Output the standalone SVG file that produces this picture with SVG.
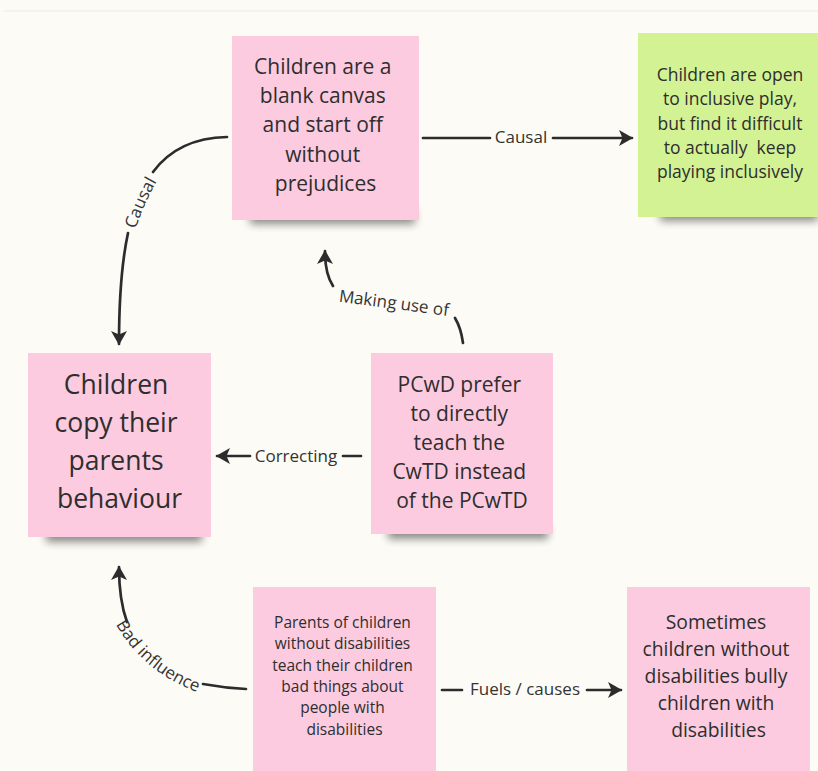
<svg xmlns="http://www.w3.org/2000/svg" width="818" height="771" viewBox="0 0 818 771">
  <style>
    .note-pink { fill: #fccbdf; }
    .note-green { fill: #d3f294; }
    .shadow { fill: #000; opacity: 0.45; filter: url(#soft); }
    .txt { font-family: "Open Sans", "Noto Sans", sans-serif; fill: #2e2e2e; text-anchor: middle; }
    .lbl { font-family: "Open Sans", "Noto Sans", sans-serif; fill: #333; font-size: 17px; text-anchor: middle; }
    .edge { fill: none; stroke: #2c2c2c; stroke-width: 2.7; stroke-linecap: round; }
  </style>
  <defs>
    <filter id="soft" x="-20%" y="-100%" width="140%" height="300%">
      <feGaussianBlur stdDeviation="4"/>
    </filter>
    <marker id="arrow" viewBox="0 0 16 18" refX="14" refY="9" markerWidth="16" markerHeight="18" markerUnits="userSpaceOnUse" orient="auto">
      <path d="M1,1 L15,9 L1,17 L4.5,9 z" fill="#2c2c2c"/>
    </marker>
    <path id="p-causal-side" d="M 130 250 Q 140 205 168 163"/>
    <path id="p-bad" d="M 112 617 Q 140 673 205 695"/>
    <path id="p-making" d="M 333 301 Q 390 308 454 317"/>
  </defs>

  <!-- canvas -->
  <rect x="0" y="0" width="818" height="771" fill="#fdfbf5"/>
  <line x1="4" y1="11" x2="818" y2="11" stroke="#ebeae6" stroke-width="1"/>

  <!-- connectors -->
  <g id="connectors">
    <!-- Causal: blank canvas -> open to inclusive play -->
    <line class="edge" x1="423" y1="138" x2="490" y2="138"/>
    <line class="edge" x1="553" y1="138" x2="632" y2="138" marker-end="url(#arrow)"/>
    <text class="lbl" x="521" y="143">Causal</text>

    <!-- Causal: blank canvas -> copy parents -->
    <path class="edge" d="M 227 137 Q 178 138 153 172"/>
    <path class="edge" d="M 128 233 Q 119 275 119 344" marker-end="url(#arrow)"/>
    <text class="lbl"><textPath href="#p-causal-side" startOffset="50%">Causal</textPath></text>

    <!-- Making use of: PCwD -> blank canvas -->
    <path class="edge" d="M 333 286 Q 325 274 325 251" marker-end="url(#arrow)"/>
    <path class="edge" d="M 455 318 Q 461 328 463 343"/>
    <text class="lbl"><textPath href="#p-making" startOffset="50%">Making use of</textPath></text>

    <!-- Correcting: PCwD -> copy parents -->
    <line class="edge" x1="361" y1="456" x2="343" y2="456"/>
    <line class="edge" x1="250" y1="456" x2="217" y2="456" marker-end="url(#arrow)"/>
    <text class="lbl" x="296" y="462">Correcting</text>

    <!-- Bad influence: parents teach -> copy parents -->
    <path class="edge" d="M 127 622 Q 119 600 119 567" marker-end="url(#arrow)"/>
    <path class="edge" d="M 203 684 Q 225 688 246 689"/>
    <text class="lbl"><textPath href="#p-bad" startOffset="50%">Bad influence</textPath></text>

    <!-- Fuels / causes: parents teach -> bullying -->
    <line class="edge" x1="442" y1="690" x2="462" y2="690"/>
    <line class="edge" x1="587" y1="690" x2="621" y2="690" marker-end="url(#arrow)"/>
    <text class="lbl" x="525" y="695">Fuels / causes</text>
  </g>

  <!-- notes -->
  <g id="n-blank-canvas">
    <rect class="shadow" x="250" y="210" width="165" height="14"/>
    <rect class="note-pink" x="232" y="36" width="187" height="184"/>
    <text class="txt" font-size="21">
      <tspan x="325.5" y="74">Children are a</tspan>
      <tspan x="325.5" y="103">blank canvas</tspan>
      <tspan x="325.5" y="132">and start off</tspan>
      <tspan x="325.5" y="162">without</tspan>
      <tspan x="325.5" y="191">prejudices</tspan>
    </text>
  </g>

  <g id="n-inclusive-play">
    <rect class="shadow" x="660" y="207" width="158" height="14"/>
    <rect class="note-green" x="638" y="33" width="190" height="184"/>
    <text class="txt" font-size="17.5" xml:space="preserve"><tspan x="730" y="81">Children are open</tspan><tspan x="730" y="105">to inclusive play,</tspan><tspan x="730" y="130">but find it difficult</tspan><tspan x="730" y="154">to actually  keep</tspan><tspan x="730" y="178">playing inclusively</tspan></text>
  </g>

  <g id="n-copy-parents">
    <rect class="shadow" x="46" y="528" width="156" height="14"/>
    <rect class="note-pink" x="28" y="353" width="183" height="184"/>
    <text class="txt" font-size="26.5">
      <tspan x="119.5" y="394">Children</tspan>
      <tspan x="119.5" y="432">copy their</tspan>
      <tspan x="119.5" y="470">parents</tspan>
      <tspan x="119.5" y="508">behaviour</tspan>
    </text>
  </g>

  <g id="n-pcwd-prefer">
    <rect class="shadow" x="388" y="525" width="160" height="14"/>
    <rect class="note-pink" x="371" y="353" width="182" height="181"/>
    <text class="txt" font-size="21">
      <tspan x="462" y="392">PCwD prefer</tspan>
      <tspan x="462" y="421">to directly</tspan>
      <tspan x="462" y="450">teach the</tspan>
      <tspan x="462" y="479">CwTD instead</tspan>
      <tspan x="462" y="508">of the PCwTD</tspan>
    </text>
  </g>

  <g id="n-parents-teach">
    <rect class="note-pink" x="253" y="587" width="183" height="190"/>
    <text class="txt" font-size="15.5">
      <tspan x="344.5" y="628">Parents of children</tspan>
      <tspan x="344.5" y="649">without disabilities</tspan>
      <tspan x="344.5" y="671">teach their children</tspan>
      <tspan x="344.5" y="692">bad things about</tspan>
      <tspan x="344.5" y="713">people with</tspan>
      <tspan x="344.5" y="735">disabilities</tspan>
    </text>
  </g>

  <g id="n-bullying">
    <rect class="note-pink" x="627" y="587" width="183" height="190"/>
    <text class="txt" font-size="19.3">
      <tspan x="718.5" y="629">Sometimes</tspan>
      <tspan x="718.5" y="656">children without</tspan>
      <tspan x="718.5" y="683">disabilities bully</tspan>
      <tspan x="718.5" y="710">children with</tspan>
      <tspan x="718.5" y="737">disabilities</tspan>
    </text>
  </g>
</svg>
